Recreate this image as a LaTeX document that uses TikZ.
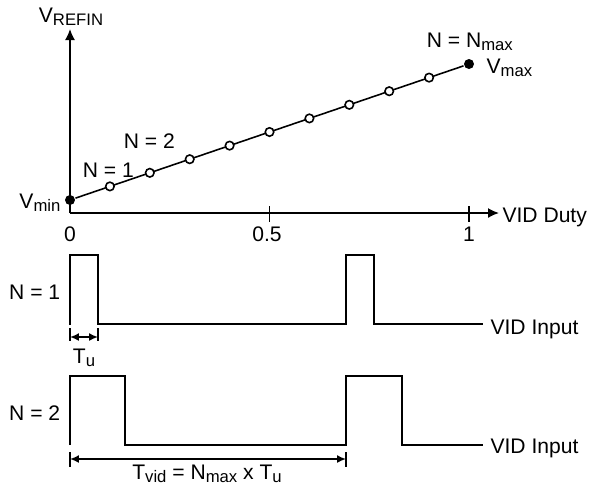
\documentclass[tikz,border=0pt]{standalone}
\usepackage{fontspec}
\setmainfont{Liberation Sans}
\usetikzlibrary{arrows.meta}
\newcommand{\subtxt}[1]{\raisebox{-2.2pt}{\fontsize{9.5}{10}\selectfont #1}}

\begin{document}
\begin{tikzpicture}[x=0.02cm, y=-0.02cm, line width=0.9pt,
    font=\fontsize{12}{14}\selectfont,
    odot/.style={circle, draw=black, fill=white, inner sep=0pt, minimum size=0.17cm},
    fdot/.style={circle, fill=black, inner sep=0pt, minimum size=0.2cm},
    axis/.style={-{Latex[length=0.22cm, width=0.2cm]}},
    dim/.style={{Latex[length=0.18cm, width=0.16cm]}-{Latex[length=0.18cm, width=0.16cm]}}]
        \useasboundingbox (0,0) rectangle (599,488);

        % axes
        \coordinate (o) at (70,213);
        \coordinate (ytop) at (70,29);
        \coordinate (xend) at (499,213);
        \draw[axis] (o) -- (ytop);
        \draw[axis] (o) -- (xend);
        \node[anchor=base] (vref) at (71,22) {V\subtxt{REFIN}};
        \node[anchor=base west, inner sep=1pt] (duty) at (500,222) {VID Duty};

        % ticks and tick labels
        \foreach \x in {269.5, 469} {
            \draw (\x,206) -- (\x,222);
        }
        \node[anchor=base] (t0) at (70,241) {0};
        \node[anchor=base] (t05) at (267,241) {0.5};
        \node[anchor=base] (t1) at (469,241) {1};

        % VREFIN versus duty
        \node[fdot] (vmin) at (70,200) {};
        \node[fdot] (vmax) at (469,64) {};
        \draw (vmin) -- (vmax);
        \foreach \i in {1,...,9} {
            \node[odot] (p\i) at ({70+\i*39.9},{200-\i*13.6}) {};
        }
        \node[anchor=base east, inner sep=1pt] (lmin) at (63,208) {V\subtxt{min}};
        \node[anchor=base west, inner sep=1pt] (lmax) at (484,73) {V\subtxt{max}};
        \node[anchor=base west, inner sep=0pt] (n1) at (82,177) {N = 1};
        \node[anchor=base west, inner sep=0pt] (n2) at (123,148) {N = 2};
        \node[anchor=base west, inner sep=0pt] (nmax) at (426,47) {N = N\subtxt{max}};

        % N = 1 waveform
        \node[anchor=base east, inner sep=0pt] (w1) at (61,299) {N = 1};
        \draw (70,325) -- (70,255) -- (98,255) -- (98,324) -- (346,324)
              -- (346,255) -- (374,255) -- (374,324) -- (483,324);
        \node[anchor=base west, inner sep=1pt] (in1) at (488,334) {VID Input};

        % Tu
        \coordinate (tua) at (70,337);
        \coordinate (tub) at (98,337);
        \draw (70,328) -- (70,341);
        \draw (98,328) -- (98,341);
        \draw[dim] (tua) -- (tub);
        \node[anchor=base] (tu) at (84,363) {T\subtxt{u}};

        % N = 2 waveform
        \node[anchor=base east, inner sep=0pt] (w2) at (61,420) {N = 2};
        \draw (70,445) -- (70,376) -- (125,376) -- (125,445) -- (346,445)
              -- (346,376) -- (402,376) -- (402,445) -- (483,445);
        \node[anchor=base west, inner sep=1pt] (in2) at (488,453) {VID Input};

        % Tvid
        \coordinate (tva) at (70,459);
        \coordinate (tvb) at (346,459);
        \draw (70,452) -- (70,467);
        \draw (346,452) -- (346,467);
        \draw[dim] (tva) -- (tvb);
        \node[anchor=base] (tvid) at (207,479) {T\subtxt{vid} = N\subtxt{max} x T\subtxt{u}};
\end{tikzpicture}
\end{document}
